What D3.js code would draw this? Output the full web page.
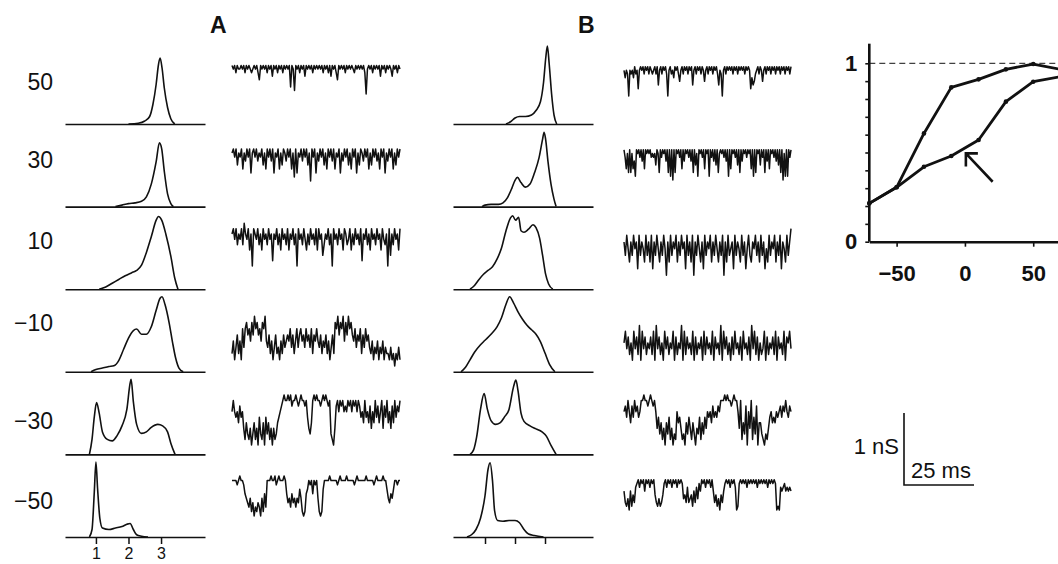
<!DOCTYPE html>
<html>
<head>
<meta charset="utf-8">
<script src="https://cdn.jsdelivr.net/npm/d3@7"></script>
<style>
  body { margin: 0; background: #fff; }
  text { font-family: "Liberation Sans", Arial, sans-serif; fill: #111; }
</style>
</head>
<body>
<script>
// membrane potential of each row (mV)
const rowLabels = ['50', '30', '10', '\u221210', '\u221230', '\u221250'];

// amplitude histograms: [conductance level, relative count]
const histA = [
  [[2.0,0],[2.3,0.01],[2.5,0.04],[2.65,0.1],[2.75,0.26],[2.85,0.53],[2.92,0.79],[2.97,0.88],[3.03,0.75],[3.1,0.48],[3.2,0.22],[3.3,0.07],[3.42,0]],
  [[1.6,0],[1.8,0.02],[2.0,0.04],[2.2,0.05],[2.4,0.07],[2.55,0.13],[2.7,0.3],[2.85,0.6],[2.95,0.85],[3.02,0.77],[3.1,0.47],[3.2,0.17],[3.3,0.04],[3.38,0]],
  [[1.1,0],[1.3,0.03],[1.5,0.08],[1.7,0.13],[1.9,0.18],[2.1,0.22],[2.25,0.25],[2.4,0.32],[2.55,0.49],[2.7,0.7],[2.85,0.92],[2.92,0.97],[3.02,0.92],[3.15,0.73],[3.3,0.44],[3.42,0.15],[3.52,0]],
  [[0.85,0],[1.0,0.03],[1.2,0.05],[1.4,0.07],[1.55,0.08],[1.7,0.15],[1.85,0.3],[2.0,0.45],[2.15,0.55],[2.25,0.57],[2.4,0.5],[2.55,0.5],[2.7,0.6],[2.85,0.82],[2.97,0.98],[3.03,1.0],[3.12,0.9],[3.25,0.65],[3.35,0.4],[3.45,0.18],[3.55,0.05],[3.68,0]],
  [[0.8,0],[0.88,0.2],[0.95,0.5],[1.02,0.69],[1.1,0.55],[1.2,0.3],[1.35,0.2],[1.5,0.18],[1.65,0.25],[1.8,0.38],[1.95,0.6],[2.05,0.95],[2.08,1.0],[2.15,0.7],[2.25,0.4],[2.4,0.28],[2.55,0.3],[2.7,0.36],[2.9,0.4],[3.05,0.38],[3.2,0.3],[3.3,0.15],[3.43,0]],
  [[0.8,0],[0.88,0.1],[0.95,0.6],[1.0,1.0],[1.05,0.65],[1.12,0.25],[1.2,0.12],[1.4,0.1],[1.6,0.12],[1.8,0.14],[1.95,0.17],[2.05,0.18],[2.15,0.1],[2.25,0.03],[2.4,0.01],[2.6,0]]
];
const histB = [
  [[1.7,0],[1.85,0.03],[2.0,0.08],[2.15,0.1],[2.35,0.1],[2.55,0.12],[2.7,0.18],[2.85,0.3],[2.95,0.55],[3.03,0.9],[3.08,1.04],[3.14,0.8],[3.22,0.4],[3.3,0.12],[3.39,0]],
  [[0.9,0],[1.0,0.02],[1.2,0.03],[1.45,0.03],[1.6,0.05],[1.75,0.12],[1.9,0.25],[2.0,0.35],[2.08,0.39],[2.2,0.32],[2.35,0.26],[2.5,0.3],[2.65,0.45],[2.8,0.65],[2.92,0.9],[2.97,0.99],[3.02,0.9],[3.1,0.6],[3.2,0.3],[3.3,0.1],[3.37,0]],
  [[0.5,0],[0.65,0.05],[0.8,0.13],[0.95,0.2],[1.1,0.25],[1.25,0.3],[1.4,0.4],[1.55,0.55],[1.7,0.78],[1.85,0.95],[1.92,0.98],[2.02,0.92],[2.12,0.96],[2.2,0.78],[2.3,0.76],[2.45,0.8],[2.6,0.86],[2.7,0.82],[2.82,0.68],[2.92,0.45],[3.02,0.2],[3.12,0.07],[3.26,0]],
  [[0.2,0],[0.35,0.06],[0.5,0.16],[0.65,0.26],[0.85,0.36],[1.0,0.42],[1.2,0.5],[1.4,0.6],[1.55,0.72],[1.7,0.9],[1.82,1.0],[1.95,0.92],[2.1,0.8],[2.25,0.7],[2.4,0.62],[2.55,0.56],[2.7,0.5],[2.85,0.4],[3.0,0.25],[3.15,0.1],[3.33,0]],
  [[0.5,0],[0.62,0.06],[0.72,0.23],[0.85,0.6],[0.97,0.81],[1.08,0.6],[1.2,0.45],[1.35,0.4],[1.5,0.42],[1.65,0.5],[1.8,0.6],[1.95,0.9],[2.03,0.99],[2.1,0.85],[2.2,0.55],[2.3,0.44],[2.5,0.38],[2.7,0.34],[2.9,0.3],[3.05,0.24],[3.2,0.12],[3.37,0]],
  [[0.4,0],[0.55,0.03],[0.7,0.1],[0.85,0.25],[1.0,0.55],[1.1,0.9],[1.17,0.99],[1.25,0.75],[1.32,0.35],[1.42,0.22],[1.6,0.21],[1.8,0.22],[2.0,0.22],[2.15,0.19],[2.3,0.1],[2.45,0.04],[2.65,0.02],[2.95,0]]
];
const histTicks = [1, 2, 3];

// single-channel records, one digit per sample (0 = upper level, 9 = deepest)
const tracesA = [
  '1213122121312123212135121213121412131213121217128121312141212131212121312131412135121213121212312121213921213121214121312124121312',
  '21315231624131721314231526131417231625124131628172314131529131724131526131416231724131526131725124131625131426131724131625131',
  '32425342513426392342536243524383425362435263425392435246352435262437534253924352436235426352435283425362435243624539273524362',
  '75864758363243524132435231564758647685746545364753643546354637453564756475864723142315241324536453746354675867586758677868797868',
  '3134352436857869758694785947586968754321011010211012101121467510101121010121789621312132312131213124351435263514253162415362514231',
  '1111210112456758697867958471110110210111014657465756358984312141215898311110111112101111011111210111111011111210111101135645311211'
];
const tracesB = [
  '2423923241327212131213123213162131213921324121352131213121621312131252131213121362392131212131213121213121274653213125213121312131213121312131',
  '1362717264812131416121213232512713121417181917121316141213141715281213161218131415172121314181612131517141213121618171215131714161213141517192818131',
  '352463524372534625362735246352483625342635243725362835246372534263524635283625437253462537425634253625374625342635273462531',
  '536475836472836475647382647583647563847562837465738475648374657384657283647584736574836574826374857638475647384657384536',
  '3241352413243110112101213647586957486978354687957468579674857463435243423111010112101136185729361847295578978643545343242313423',
  '4786948573213121412131215786875213121312131212657376584736241213121314758695742121312139821212131212121312121213121212989343243434'
];
const traceBoxA = [[62, 94], [145, 181], [218, 266], [310, 366], [395, 445], [476, 516]];
const traceBoxB = [[63, 96], [146, 180], [222, 282], [314, 366], [395, 445], [476, 510]];

// inset: relative conductance against membrane potential
const gvVolts = [-70, -50, -30, -10, 10, 30, 50, 70];
const gvUpper = [0.215, 0.305, 0.607, 0.865, 0.91, 0.966, 0.996, 0.966];
const gvLower = [0.215, 0.305, 0.42, 0.48, 0.57, 0.785, 0.897, 0.925];
const gvXTicks = [-50, 0, 50];
const gvYTicks = [0, 0.1, 0.2, 0.3, 0.4, 0.5, 0.6, 0.7, 0.8, 0.9, 1];

const width = 1058, height = 564;
const ink = '#111';
const font = '"Liberation Sans", Arial, sans-serif';

const svg = d3.select('body').append('svg')
  .attr('width', width)
  .attr('height', height);

svg.append('rect').attr('width', width).attr('height', height).attr('fill', '#fff');

// rows share the same baselines in both panels
const baseY = d3.scaleLinear().domain([0, 5]).range([124, 537]);
const labelY = [82, 160, 241, 323, 421, 501];

const xHistA = d3.scaleLinear().domain([0.05, 4.35]).range([65, 205]);
const xHistB = d3.scaleLinear().domain([-0.067, 4.6]).range([453, 593]);

function drawPanel(hist, traces, xHist, traceX, boxes, tickLabels) {
  hist.forEach(function(pts, i) {
    const b = baseY(i);
    const y = d3.scaleLinear().domain([0, 1]).range([b, b - 75]);

    const axis = d3.axisBottom(xHist);
    if (i === hist.length - 1) {
      axis.tickValues(histTicks).tickSizeInner(7).tickPadding(4)
        .tickFormat(tickLabels ? d3.format('d') : () => '');
    } else {
      axis.tickValues([]);
    }
    axis.tickSizeOuter(0);
    const g = svg.append('g')
      .attr('transform', `translate(0,${b})`)
      .call(axis);
    g.select('.domain').attr('stroke', ink).attr('stroke-width', 1.6);
    g.selectAll('.tick line').attr('stroke', ink).attr('stroke-width', 1.5);
    g.selectAll('.tick text')
      .attr('font-size', 16)
      .attr('font-family', font)
      .attr('fill', ink);

    svg.append('path')
      .datum(pts)
      .attr('d', d3.line()
        .x(d => xHist(d[0]))
        .y(d => y(d[1]))
        .curve(d3.curveMonotoneX))
      .attr('fill', 'none')
      .attr('stroke', ink)
      .attr('stroke-width', 1.6);
  });

  traces.forEach(function(s, i) {
    const v = s.split('').map(Number);
    const x = d3.scaleLinear().domain([0, v.length - 1]).range(traceX);
    const y = d3.scaleLinear().domain([0, 9]).range(boxes[i]);
    svg.append('path')
      .datum(v)
      .attr('d', d3.line().x((d, j) => x(j)).y(d => y(d)))
      .attr('fill', 'none')
      .attr('stroke', ink)
      .attr('stroke-width', 1.5)
      .attr('stroke-linejoin', 'round');
  });
}

drawPanel(histA, tracesA, xHistA, [232, 400], traceBoxA, true);
drawPanel(histB, tracesB, xHistB, [624, 791], traceBoxB, false);

// row labels
svg.append('g')
  .selectAll('text')
  .data(rowLabels)
  .join('text')
  .attr('x', 53)
  .attr('y', (d, i) => labelY[i])
  .attr('dy', '0.36em')
  .attr('text-anchor', 'end')
  .attr('font-size', 23)
  .text(d => d);

// panel letters
svg.append('text').attr('x', 210).attr('y', 33)
  .attr('font-size', 23).attr('font-weight', 'bold').text('A');
svg.append('text').attr('x', 578).attr('y', 33)
  .attr('font-size', 23).attr('font-weight', 'bold').text('B');

// INSET
const gx = d3.scaleLinear().domain([-70, 80]).range([869.3, 1074.2]);
const gy = d3.scaleLinear().domain([0, 1]).range([241.7, 63.3]);

// reference level at 1
svg.append('line')
  .attr('x1', gx(-70)).attr('x2', width)
  .attr('y1', gy(1)).attr('y2', gy(1))
  .attr('stroke', ink).attr('stroke-width', 1)
  .attr('stroke-dasharray', '6,4');

const yAxis = d3.axisLeft(gy)
  .tickValues(gvYTicks)
  .tickSize(4)
  .tickSizeOuter(0)
  .tickPadding(8)
  .tickFormat(d => (d === 0 || d === 1) ? d : '');
const yg = svg.append('g')
  .attr('transform', `translate(${gx(-70)},0)`)
  .call(yAxis);
yg.select('.domain').remove();
yg.append('line')
  .attr('y1', gy(0)).attr('y2', gy(1.11))
  .attr('stroke', ink).attr('stroke-width', 2.6);
yg.selectAll('.tick line').attr('stroke', ink).attr('stroke-width', 1.6);
yg.selectAll('.tick text')
  .attr('font-size', 22).attr('font-weight', 'bold')
  .attr('font-family', font).attr('fill', ink);

const xAxis = d3.axisBottom(gx)
  .tickValues(gvXTicks)
  .tickSize(5)
  .tickSizeOuter(0)
  .tickPadding(19);
const xg = svg.append('g')
  .attr('transform', `translate(0,${gy(0)})`)
  .call(xAxis);
xg.select('.domain').attr('stroke', ink).attr('stroke-width', 2.6);
xg.selectAll('.tick line').attr('stroke', ink).attr('stroke-width', 1.6);
xg.selectAll('.tick text')
  .attr('font-size', 22).attr('font-weight', 'bold')
  .attr('font-family', font).attr('fill', ink);

const gvLine = d3.line().x(d => gx(d[0])).y(d => gy(d[1]));
[gvUpper, gvLower].forEach(function(series) {
  const pts = gvVolts.map((v, i) => [v, series[i]]);
  svg.append('path')
    .datum(pts)
    .attr('d', gvLine)
    .attr('fill', 'none')
    .attr('stroke', ink)
    .attr('stroke-width', 2.8)
    .attr('stroke-linejoin', 'round');
  svg.append('g')
    .selectAll('circle')
    .data(pts)
    .join('circle')
    .attr('cx', d => gx(d[0]))
    .attr('cy', d => gy(d[1]))
    .attr('r', 2.3)
    .attr('fill', ink);
});

// arrow pointing at the lower curve
const head = [gx(0.7), gy(0.495)];
const tail = [gx(20.3), gy(0.336)];
svg.append('path')
  .attr('d', `M${tail[0]},${tail[1]}L${head[0]},${head[1]}` +
             `M${head[0] + 12},${head[1]}L${head[0]},${head[1]}L${head[0]},${head[1] + 13}`)
  .attr('fill', 'none')
  .attr('stroke', ink)
  .attr('stroke-width', 2.6);

// SCALE BAR
svg.append('path')
  .attr('d', 'M904,413V485H974')
  .attr('fill', 'none')
  .attr('stroke', ink)
  .attr('stroke-width', 1.6);
svg.append('text').attr('x', 899).attr('y', 454)
  .attr('text-anchor', 'end').attr('font-size', 22).text('1 nS');
svg.append('text').attr('x', 911).attr('y', 478)
  .attr('font-size', 22).text('25 ms');
</script>
</body>
</html>
